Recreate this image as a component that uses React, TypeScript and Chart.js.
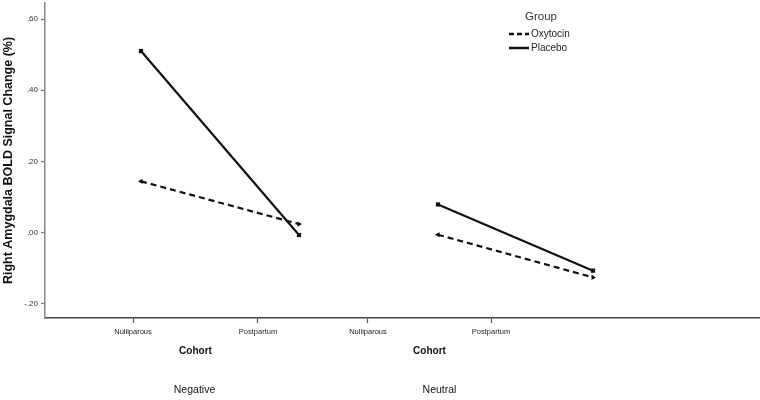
import React, { useEffect, useRef } from 'react';
import { Chart, registerables } from 'chart.js';

Chart.register(...registerables);

// ---- Data ----
const panels = ['Negative', 'Neutral'];
const cohorts = ['Nulliparous', 'Postpartum'];
const groups = ['Oxytocin', 'Placebo'];
const oxytocinNegative = [0.144, 0.024];
const placeboNegative = [0.51, -0.007];
const oxytocinNeutral = [-0.006, -0.126];
const placeboNeutral = [0.079, -0.107];
const yTickValues = [-0.2, 0, 0.2, 0.4, 0.6];
const yTickLabels = ['-.20', '.00', '.20', '.40', '.60'];
const yAxisTitle = 'Right Amygdala BOLD Signal Change (%)';
const xAxisTitle = 'Cohort';
const legendTitle = 'Group';

// ---- Layout / style constants ----
const FONT = 'Arial, "Liberation Sans", sans-serif';
const TICK_POS = [12.31, 29.79, 45.17, 62.38]; // visible axis, percent of plot width
const NEG_RANGE = { min: -0.6076, max: 3.9177 };
const NEU_RANGE = { min: -2.5355, max: 2.0774 };
const PANEL_TITLE_SHIFT = [-1, 10];
const LINE_COLOR = '#111';

const toPoints = (vals: number[]) => vals.map((v, i) => ({ x: i, y: v }));

const overlayPlugin = {
  id: 'overlayTexts',
  afterDraw(chart: any) {
    const ctx = chart.ctx as CanvasRenderingContext2D;
    const xs = chart.scales.x;
    const bottom = chart.chartArea.bottom;
    ctx.save();
    ctx.textAlign = 'center';
    ctx.textBaseline = 'middle';
    panels.forEach((p, i) => {
      const c =
        (xs.getPixelForValue(TICK_POS[2 * i]) + xs.getPixelForValue(TICK_POS[2 * i + 1])) / 2;
      ctx.fillStyle = '#111';
      ctx.font = `bold 10px ${FONT}`;
      ctx.fillText(xAxisTitle, c, bottom + 33);
      ctx.font = `10.5px ${FONT}`;
      ctx.fillText(p, c + PANEL_TITLE_SHIFT[i], bottom + 72);
    });

    // legend
    ctx.fillStyle = '#333';
    ctx.font = `11.5px ${FONT}`;
    ctx.fillText(legendTitle, 541, 17);
    ctx.textAlign = 'left';
    ctx.font = `10px ${FONT}`;
    const rows = [34, 48];
    groups.forEach((g, i) => {
      const y = rows[i];
      ctx.strokeStyle = LINE_COLOR;
      ctx.lineWidth = 2.5;
      ctx.setLineDash(i === 0 ? [5, 3] : []);
      ctx.beginPath();
      ctx.moveTo(509, y);
      ctx.lineTo(529, y);
      ctx.stroke();
      ctx.setLineDash([]);
      ctx.fillStyle = '#222';
      ctx.fillText(g, 531, y + 0.5);
    });
    ctx.restore();
  },
};

export default function App() {
  const ref = useRef<HTMLCanvasElement | null>(null);

  useEffect(() => {
    if (!ref.current) return;
    const mkSet = (label: string, vals: number[], axis: string, dashed: boolean) => ({
      label,
      data: toPoints(vals),
      xAxisID: axis,
      yAxisID: 'y',
      borderColor: LINE_COLOR,
      backgroundColor: LINE_COLOR,
      borderWidth: 2.2,
      borderDash: dashed ? [6, 4] : [],
      tension: 0,
      pointStyle: dashed ? 'triangle' : 'rect',
      pointRadius: 3,
      pointRotation: dashed ? [-90, 90] : 0,
      pointBorderWidth: 0,
      pointBackgroundColor: LINE_COLOR,
      fill: false,
      clip: false,
    });

    const chart = new Chart(ref.current, {
      type: 'line',
      data: {
        datasets: [
          mkSet(groups[0] + ' ' + panels[0], oxytocinNegative, 'xNeg', true),
          mkSet(groups[1] + ' ' + panels[0], placeboNegative, 'xNeg', false),
          mkSet(groups[0] + ' ' + panels[1], oxytocinNeutral, 'xNeu', true),
          mkSet(groups[1] + ' ' + panels[1], placeboNeutral, 'xNeu', false),
        ] as any,
      },
      options: {
        animation: false,
        responsive: false,
        layout: { autoPadding: false, padding: { top: 3, left: 0, right: 0, bottom: 0 } },
        plugins: { legend: { display: false }, tooltip: { enabled: false } },
        scales: {
          x: {
            type: 'linear',
            position: 'bottom',
            min: 0,
            max: 100,
            afterBuildTicks: (s: any) => {
              s.ticks = TICK_POS.map((v) => ({ value: v }));
            },
            ticks: {
              callback: (_v: any, i: number) => cohorts[i % cohorts.length],
              font: { size: 7.5, family: FONT },
              color: '#222',
              padding: 4,
              maxRotation: 0,
              autoSkip: false,
            },
            grid: { drawOnChartArea: false, drawTicks: true, tickLength: 5, tickColor: '#555', tickWidth: 1.2 },
            border: { color: '#444', width: 1.5 },
            afterFit: (s: any) => {
              s.height = 82;
              s.paddingLeft = 0;
              s.paddingRight = 0;
            },
          },
          xNeg: { type: 'linear', axis: 'x', position: 'bottom', display: false, ...NEG_RANGE },
          xNeu: { type: 'linear', axis: 'x', position: 'bottom', display: false, ...NEU_RANGE },
          y: {
            type: 'linear',
            min: -0.24,
            max: 0.645,
            afterBuildTicks: (s: any) => {
              s.ticks = yTickValues.map((v) => ({ value: v }));
            },
            ticks: {
              callback: (_v: any, i: number) => yTickLabels[i],
              font: { size: 8, family: FONT },
              color: '#333',
              padding: 3,
            },
            grid: { drawOnChartArea: false, drawTicks: true, tickLength: 4, tickColor: '#777', tickWidth: 1.2 },
            border: { color: '#888', width: 1.5 },
            title: {
              display: true,
              text: yAxisTitle,
              font: { size: 12.5, weight: 'bold', family: FONT },
              color: '#111',
              padding: { top: 1, bottom: 0 },
            },
            afterFit: (s: any) => {
              s.width = 45;
              s.paddingTop = 0;
              s.paddingBottom = 0;
            },
          },
        } as any,
      },
      plugins: [overlayPlugin],
    });
    return () => chart.destroy();
  }, []);

  return (
    <div style={{ position: 'fixed', left: 0, top: 0, width: 760, height: 400, background: '#fff' }}>
      <canvas ref={ref} width={760} height={400} style={{ display: 'block' }} />
    </div>
  );
}
